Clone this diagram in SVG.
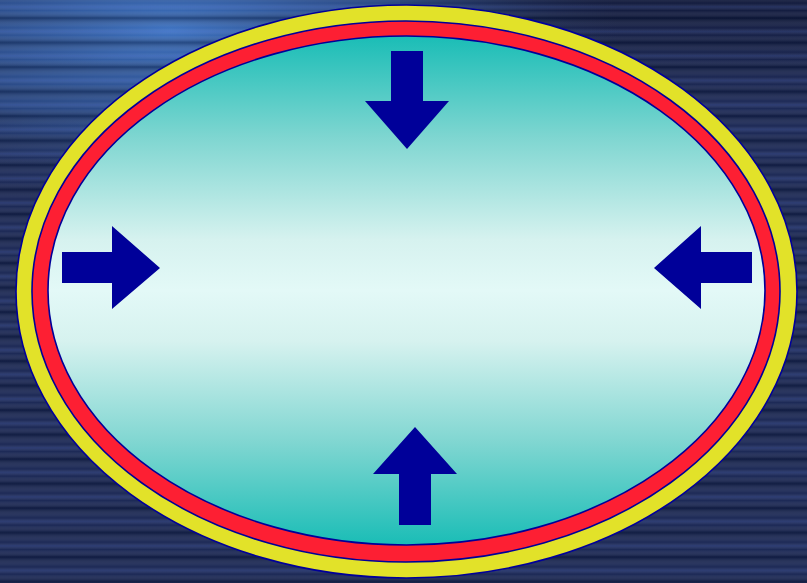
<svg xmlns="http://www.w3.org/2000/svg" width="807" height="583" viewBox="0 0 807 583">
  <defs>
    <radialGradient id="glow" cx="170" cy="30" r="300" gradientUnits="userSpaceOnUse" gradientTransform="translate(170 30) scale(1.5 0.6) translate(-170 -30)">
      <stop offset="0" stop-color="#3a72c4" stop-opacity="0.95"/>
      <stop offset="0.55" stop-color="#2c58a0" stop-opacity="0.55"/>
      <stop offset="1" stop-color="#1a2a5a" stop-opacity="0"/>
    </radialGradient>
    <linearGradient id="dark" x1="0" y1="0" x2="0" y2="1">
      <stop offset="0" stop-color="#060c28" stop-opacity="0.6"/>
      <stop offset="0.25" stop-color="#060c28" stop-opacity="0.25"/>
      <stop offset="0.5" stop-color="#060c28" stop-opacity="0"/>
    </linearGradient>
    <linearGradient id="band" x1="0" y1="0" x2="0" y2="1">
      <stop offset="0" stop-color="#000a20" stop-opacity="0.35"/>
      <stop offset="0.4" stop-color="#ffffff" stop-opacity="0.02"/>
      <stop offset="0.55" stop-color="#8aa4ff" stop-opacity="0.2"/>
      <stop offset="0.7" stop-color="#ffffff" stop-opacity="0.02"/>
      <stop offset="1" stop-color="#000a20" stop-opacity="0.35"/>
    </linearGradient>
    <pattern id="stripes" patternUnits="userSpaceOnUse" x="0" y="18" width="807" height="24.5">
      <rect width="807" height="24.5" fill="url(#band)"/>
    </pattern>
    <linearGradient id="teal" x1="0" y1="36" x2="0" y2="545" gradientUnits="userSpaceOnUse">
      <stop offset="0" stop-color="#1abdb6"/>
      <stop offset="0.2" stop-color="#7fd6d1"/>
      <stop offset="0.4" stop-color="#d6f2ef"/>
      <stop offset="0.5" stop-color="#e3f9f7"/>
      <stop offset="0.6" stop-color="#d6f2ef"/>
      <stop offset="0.8" stop-color="#7fd6d1"/>
      <stop offset="1" stop-color="#1abdb6"/>
    </linearGradient>
  </defs>
  <style>
    .ring { stroke: #000099; stroke-width: 1.6; }
    .arrow { fill: #000099; }
  </style>

  <!-- background -->
  <rect x="0" y="0" width="807" height="583" fill="#172452"/>
  <rect x="400" y="0" width="407" height="200" fill="url(#dark)"/>
  <rect x="0" y="0" width="807" height="583" fill="url(#glow)"/>
  <rect x="0" y="0" width="807" height="583" fill="url(#stripes)"/>

  <!-- rings -->
  <g id="frame">
    <ellipse class="ring" cx="406.5" cy="291.5" rx="390.5" ry="286.5" fill="#e2e229"/>
    <ellipse class="ring" cx="406" cy="291.5" rx="374" ry="270.5" fill="#fd1f33"/>
    <ellipse class="ring" cx="406.5" cy="290.5" rx="358.5" ry="254.5" fill="url(#teal)"/>
  </g>

  <!-- arrows -->
  <g id="arrows">
    <g id="arrow-top">
      <polygon class="arrow" points="391,51 423,51 423,101 449,101 407,149 365,101 391,101"/>
    </g>
    <g id="arrow-left">
      <polygon class="arrow" points="62,252 112,252 112,226 160,268 112,309 112,283 62,283"/>
    </g>
    <g id="arrow-right">
      <polygon class="arrow" points="752,252 701,252 701,226 654,268 701,309 701,283 752,283"/>
    </g>
    <g id="arrow-bottom">
      <polygon class="arrow" points="399,525 431,525 431,474 457,474 415,427 373,474 399,474"/>
    </g>
  </g>
</svg>
